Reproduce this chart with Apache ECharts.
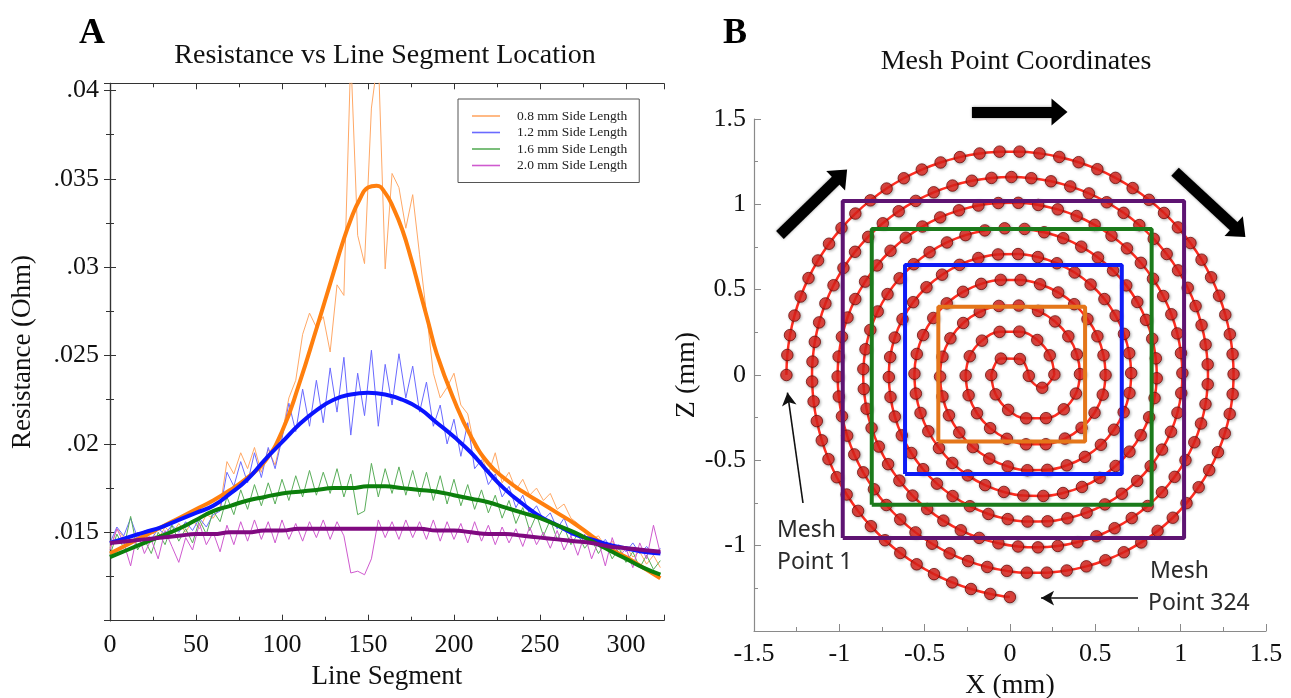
<!DOCTYPE html>
<html><head><meta charset="utf-8">
<script src="https://cdn.jsdelivr.net/npm/echarts@6/dist/echarts.min.js"></script>
<style>html,body{margin:0;padding:0;background:#fff}#c{width:1291px;height:698px}</style>
</head><body><div id="c"></div>
<script>
// ================= Panel A : resistance vs line segment =================
const seriesNames = ['0.8 mm Side Length', '1.2 mm Side Length', '1.6 mm Side Length', '2.0 mm Side Length'];
const rawSegments = [0,4,8,12,16,20,24,28,32,36,40,44,48,52,56,60,64,68,72,76,80,84,88,92,96,100,104,108,112,116,120,124,128,132,136,140,144,148,152,156,160,164,168,172,176,180,184,188,192,196,200,204,208,212,216,220,224,228,232,236,240,244,248,252,256,260,264,268,272,276,280,284,288,292,296,300,304,308,312,316,320];
const raw08 = [.0141,.0152,.0147,.0143,.0150,.0145,.0151,.0146,.0153,.0149,
  .0155,.0150,.0157,.0152,.0160,.0158,.0164,.0190,.0183,.0195,
  .0186,.0198,.0184,.0197,.0188,.0205,.0226,.0236,.0262,.0274,
  .0266,.0272,.0252,.0290,.0284,.0420,.0318,.0302,.0390,.0420,
  .0299,.0353,.0345,.0322,.0341,.0307,.0274,.0240,.0226,.0232,
  .0240,.0222,.0217,.0198,.0193,.0183,.0195,.0178,.0184,.0174,
  .0180,.0171,.0175,.0168,.0172,.0163,.0166,.0158,.0155,.0150,
  .0146,.0148,.0142,.0145,.0138,.0142,.0136,.0139,.0132,.0137,.0130];
const raw12 = [.0144,.0153,.0148,.0158,.0147,.0151,.0146,.0152,.0149,.0154,
  .0150,.0156,.0151,.0158,.0153,.0160,.0162,.0184,.0176,.0190,
  .0178,.0195,.0181,.0198,.0186,.0203,.0223,.0207,.0231,.0210,
  .0236,.0212,.0243,.0218,.0249,.0205,.0240,.0216,.0253,.0210,
  .0245,.0222,.0251,.0226,.0244,.0218,.0235,.0210,.0222,.0200,
  .0214,.0193,.0212,.0186,.0191,.0177,.0183,.0170,.0176,.0164,
  .0171,.0160,.0165,.0157,.0161,.0152,.0158,.0148,.0150,.0144,
  .0147,.0142,.0146,.0140,.0143,.0139,.0144,.0138,.0142,.0137,.0141];
const raw16 = [.0137,.0149,.0141,.0159,.0140,.0146,.0138,.0150,.0143,.0154,
  .0145,.0152,.0144,.0157,.0149,.0162,.0156,.0170,.0160,.0174,
  .0163,.0177,.0165,.0178,.0166,.0180,.0168,.0182,.0170,.0185,
  .0171,.0184,.0172,.0186,.0170,.0183,.0160,.0162,.0189,.0170,
  .0186,.0172,.0187,.0171,.0185,.0170,.0184,.0168,.0182,.0166,
  .0180,.0165,.0177,.0163,.0174,.0161,.0171,.0158,.0168,.0155,
  .0164,.0151,.0160,.0148,.0157,.0146,.0153,.0143,.0149,.0141,
  .0146,.0138,.0144,.0135,.0141,.0133,.0139,.0130,.0137,.0129,.0134];
const raw20 = [.0140,.0152,.0144,.0131,.0150,.0138,.0146,.0135,.0151,.0142,
  .0133,.0147,.0140,.0155,.0143,.0150,.0139,.0154,.0143,.0156,
  .0145,.0157,.0146,.0156,.0144,.0157,.0146,.0155,.0145,.0156,
  .0147,.0157,.0146,.0156,.0148,.0127,.0128,.0126,.0135,.0157,
  .0147,.0156,.0146,.0157,.0147,.0156,.0146,.0157,.0145,.0156,
  .0146,.0155,.0144,.0156,.0145,.0154,.0143,.0153,.0144,.0152,
  .0142,.0153,.0143,.0150,.0141,.0151,.0140,.0148,.0137,.0149,
  .0135,.0145,.0131,.0147,.0136,.0141,.0130,.0144,.0135,.0154,.0138];
// smooth fitted curves
const fit08Segments = [0,10,20,30,40,50,60,70,80,90,100,110,120,125,130,135,140,145,150,155,160,165,170,175,180,185,190,200,210,220,230,240,250,260,270,280,290,300,310,320];
const fit08 = [.0138,.0143,.0148,.0153,.0158,.0163,.0168,.0174,.0181,.0190,.0207,.0234,.0265,.0281,.0297,.0313,.0327,.0338,.0345,.0346,.0342,.0333,.0321,.0305,.0287,.0269,.0251,.0225,.0204,.0189,.0180,.0173,.0167,.0161,.0155,.0148,.0141,.0136,.0130,.0124];
const fitSegments = [0,10,20,30,40,50,60,70,80,90,100,110,120,130,140,150,160,170,180,190,200,210,220,230,240,250,260,270,280,290,300,310,320];
const fit12 = [.0144,.0147,.0150,.0153,.0157,.0161,.0165,.0172,.0180,.0191,.0201,.0211,.0219,.0225,.0228,.0229,.0228,.0225,.0220,.0212,.0204,.0195,.0184,.0174,.0166,.0159,.0154,.0149,.0146,.0143,.0141,.0139,.0138];
const fit16 = [.0136,.0140,.0144,.0148,.0152,.0157,.0162,.0165,.0168,.0170,.0172,.0173,.0174,.0175,.0175,.0176,.0176,.0175,.0174,.0173,.0171,.0169,.0167,.0164,.0161,.0158,.0154,.0150,.0145,.0140,.0135,.0130,.0126];
const fit20 = [.0144,.0145,.0146,.0147,.0148,.0149,.0149,.0150,.0150,.0151,.0151,.0152,.0152,.0152,.0152,.0152,.0152,.0152,.0152,.0151,.0151,.0150,.0149,.0149,.0148,.0147,.0146,.0145,.0144,.0142,.0141,.0140,.0139];
const rawColors = ['#ffa866', '#6a6aff', '#5aae5a', '#cf5acf'];
const fitColors = ['#ff7f0e', '#0a14ff', '#0c7f0c', '#800a80'];

// ================= Panel B : spiral mesh points =================
// Arc centres (x in mm, on the x axis): O = origin, C = lower half-turns, J = central join
const arcCentreX = {O: 0, C: 0.15, J: 0.185};
const arcCentre = ['O','C','O','C','O','C','O','C','O','J','O','C','O','C','O','C','O','C'];
const arcRadius = [1.31,1.16,1.01,0.86,0.71,0.56,0.41,0.26,0.11,0.075,0.26,0.41,0.56,0.71,0.86,1.01,1.16,1.31];
const arcFrom = [180,360,180,360,180,360,180,360,180,180,0,180,0,180,0,180,0,180];
const arcTo   = [0,180,0,180,0,180,0,180,0,360,180,360,180,360,180,360,180,263.4];
// angle (deg) of each mesh point on each arc, point 1 ... point 324 in order
const arcPointAngles = [
  [180,174.86,169.73,164.59,159.45,154.32,149.18,144.05,138.91,133.77,128.64,123.5,118.36,113.23,108.09,102.96,97.82,92.68,87.55,82.41,77.27,72.14,67,61.86,56.73,51.59,46.46,41.32,36.18,31.05,25.91,20.77,15.64,10.5,5.37,0.23],
  [354.46,348.66,342.86,337.06,331.26,325.46,319.66,313.86,308.05,302.25,296.45,290.65,284.85,279.05,273.25,267.45,261.65,255.85,250.05,244.25,238.45,232.65,226.85,221.05,215.25,209.45,203.65,197.84,192.04,186.24,180.44],
  [173.85,167.18,160.52,153.86,147.2,140.54,133.88,127.21,120.55,113.89,107.23,100.56,93.9,87.24,80.58,73.92,67.26,60.59,53.93,47.27,40.61,33.95,27.28,20.62,13.96,7.3,0.64],
  [352.92,345.1,337.27,329.45,321.63,313.8,305.98,298.16,290.33,282.51,274.68,266.86,259.04,251.21,243.39,235.56,227.74,219.92,212.09,204.27,196.44,188.62,180.8],
  [171.49,162.01,152.53,143.06,133.58,124.1,114.63,105.15,95.67,86.2,76.72,67.24,57.77,48.29,38.81,29.34,19.86,10.38,0.9],
  [349.13,337.11,325.1,313.08,301.07,289.05,277.04,265.02,253.01,240.99,228.98,216.96,204.95,192.93,180.92],
  [164.84,148.43,132.02,115.61,99.2,82.78,66.37,49.96,33.55,17.14,0.73],
  [335.27,309.39,283.51,257.63,231.75,205.87,180],
  [119.17,58.34],
  [183.65,272.87],
  [0.6,26.34,52.07,77.81,103.55,129.28,155.02],
  [180.48,196.8,213.12,229.44,245.76,262.08,278.4,294.72,311.04,327.36,343.68],
  [0,11.95,23.9,35.85,47.8,59.74,71.69,83.64,95.59,107.54,119.49,131.44,143.39,155.33,167.28,179.23],
  [188.82,198.24,207.67,217.09,226.52,235.94,245.36,254.79,264.21,273.64,283.06,292.49,301.91,311.33,320.76,330.18,339.61,349.03,358.46],
  [6.51,14.29,22.07,29.85,37.63,45.41,53.19,60.97,68.75,76.53,84.31,92.09,99.87,107.66,115.44,123.22,131,138.78,146.56,154.34,162.12,169.9,177.68],
  [184.65,191.28,197.9,204.53,211.15,217.78,224.4,231.03,237.65,244.28,250.9,257.53,264.15,270.78,277.4,284.03,290.65,297.28,303.9,310.53,317.15,323.78,330.4,337.03,343.65,350.28,356.9],
  [3.07,8.84,14.61,20.38,26.14,31.91,37.68,43.45,49.22,54.99,60.76,66.52,72.29,78.06,83.83,89.6,95.37,101.13,106.9,112.67,118.44,124.21,129.98,135.75,141.51,147.28,153.05,158.82,164.59,170.36,176.12],
  [181.68,186.78,191.89,197,202.11,207.21,212.32,217.43,222.54,227.65,232.75,237.86,242.97,248.08,253.19,258.29,263.4]
];
// squares (side lengths 0.8, 1.2, 1.6, 2.0 mm)
const squareLeft   = [-0.42, -0.615, -0.81, -0.98];
const squareRight  = [0.44, 0.655, 0.83, 1.02];
const squareBottom = [-0.39, -0.58, -0.76, -0.955];
const squareTop    = [0.40, 0.645, 0.855, 1.02];
const squareColors = ['#e4761a', '#0d1bf5', '#1b7a1b', '#5e1472'];
// direction arrows and annotation arrows [x1, y1, x2, y2] in mm
const bigArrows = [[-1.348, 0.820, -0.988, 1.171], [-0.223, 1.541, 0.29, 1.541], [0.967, 1.191, 1.345, 0.840]];
const noteArrows = [[-1.213, -0.750, -1.304, -0.103], [0.75, -1.307, 0.182, -1.307]];

// ================= layout =================
const GRID_A = {left: 110, top: 83.3, width: 553.8, height: 537.4};
const GRID_B = {left: 754, top: 119, width: 512, height: 512};
const XB = [-1.5, 1.5], YB = [-1.5, 1.5], YB_ANNOT = [-1.5, 1.75];
const bx = v => GRID_B.left + (v - XB[0]) / (XB[1] - XB[0]) * GRID_B.width;
const by = v => GRID_B.top + (YB[1] - v) / (YB[1] - YB[0]) * GRID_B.height;
const GRID_ANNOT = {left: GRID_B.left, top: by(YB_ANNOT[1]), width: GRID_B.width, height: by(YB_ANNOT[0]) - by(YB_ANNOT[1])};
const SERIF = '"Liberation Serif", "Times New Roman", serif';

const chart = echarts.init(document.getElementById('c'), null, {renderer: 'canvas'});

const series = [];
seriesNames.forEach((n, i) => {
  const vals = [raw08, raw12, raw16, raw20][i];
  series.push({name: n, type: 'line', xAxisIndex: 0, yAxisIndex: 0, symbol: 'none', z: 2,
    data: rawSegments.map((x, k) => [x, vals[k]]),
    lineStyle: {width: 1, color: rawColors[i]}, itemStyle: {color: rawColors[i]}});
});
[[fit08Segments, fit08], [fitSegments, fit12], [fitSegments, fit16], [fitSegments, fit20]].forEach((p, i) => {
  series.push({name: 'fit ' + i, type: 'line', xAxisIndex: 0, yAxisIndex: 0, symbol: 'none', smooth: true, z: 3,
    data: p[0].map((x, k) => [x, p[1][k]]),
    lineStyle: {width: 4, color: fitColors[i]}, itemStyle: {color: fitColors[i]}});
});

const polarKeys = ['O', 'C', 'J'];
const dotsByPolar = {O: [], C: [], J: []};
arcRadius.forEach((r, i) => {
  const key = arcCentre[i];
  const pts = arcPointAngles[i];
  const path = [];
  if (pts[0] !== arcFrom[i]) path.push([r, arcFrom[i]]);
  pts.forEach(a => { path.push([r, a]); dotsByPolar[key].push([r, a]); });
  if (pts[pts.length - 1] !== arcTo[i]) path.push([r, arcTo[i]]);
  series.push({type: 'line', coordinateSystem: 'polar', polarIndex: polarKeys.indexOf(key), symbol: 'none',
    smooth: 0.4, silent: true, z: 2, data: path, lineStyle: {width: 2.5, color: '#ff2e22'}});
});
polarKeys.forEach((key, pi) => {
  series.push({type: 'scatter', coordinateSystem: 'polar', polarIndex: pi, symbolSize: 11.5, z: 3, silent: true,
    data: dotsByPolar[key],
    itemStyle: {color: '#e3231c', borderColor: '#6e0f0c', borderWidth: 1,
      shadowBlur: 3, shadowColor: 'rgba(0,0,0,0.35)', shadowOffsetX: 1, shadowOffsetY: 1}});
});
squareLeft.forEach((l, i) => {
  const r = squareRight[i], b = squareBottom[i], t = squareTop[i];
  series.push({type: 'line', xAxisIndex: 2, yAxisIndex: 2, symbol: 'none', z: 5, silent: true,
    data: [[l, b], [r, b], [r, t], [l, t], [l, b]], lineStyle: {width: 4, color: squareColors[i]}});
});
series.push({type: 'line', xAxisIndex: 3, yAxisIndex: 3, data: [], clip: false, z: 6, silent: true,
  markLine: {silent: true, animation: false, label: {show: false}, symbol: ['none', 'triangle'], symbolSize: [27, 16],
    lineStyle: {type: 'solid', width: 11, color: '#000', shadowBlur: 3, shadowColor: 'rgba(0,0,0,0.4)'},
    emphasis: {disabled: true},
    data: bigArrows.map(a => [{coord: [a[0], a[1]]}, {coord: [a[2], a[3]]}])}});
series.push({type: 'line', xAxisIndex: 3, yAxisIndex: 3, data: [], clip: false, z: 6, silent: true,
  markLine: {silent: true, animation: false, label: {show: false}, symbol: ['none', 'arrow'], symbolSize: [11, 13],
    lineStyle: {type: 'solid', width: 1.6, color: '#111'}, emphasis: {disabled: true},
    data: noteArrows.map(a => [{coord: [a[0], a[1]]}, {coord: [a[2], a[3]]}])}});

const tickLabelA = {fontFamily: SERIF, fontSize: 26, color: '#111'};
const frameA = {axisLine: {lineStyle: {color: '#333', width: 1.2}},
  axisTick: {inside: true, length: 6, lineStyle: {color: '#333'}},
  minorTick: {show: true, splitNumber: 2, length: 4, lineStyle: {color: '#333'}},
  splitLine: {show: false}};
const frameB = {axisLine: {onZero: false, lineStyle: {color: '#8a8a8a', width: 1.2}},
  axisTick: {inside: true, length: 7, lineStyle: {color: '#8a8a8a'}},
  minorTick: {show: true, splitNumber: 2, length: 4, lineStyle: {color: '#8a8a8a'}},
  splitLine: {show: false}};
const option = {
  animation: false,
  backgroundColor: '#fff',
  grid: [
    Object.assign({outerBoundsMode: 'none', containLabel: false}, GRID_A),
    Object.assign({outerBoundsMode: 'none', containLabel: false}, GRID_B),
    Object.assign({outerBoundsMode: 'none', containLabel: false}, GRID_ANNOT)
  ],
  polar: polarKeys.map(k => ({center: [bx(arcCentreX[k]), by(0)], radius: GRID_B.width / 2})),
  angleAxis: polarKeys.map((k, i) => ({polarIndex: i, type: 'value', min: 0, max: 360, startAngle: 0, clockwise: false, show: false})),
  radiusAxis: polarKeys.map((k, i) => ({polarIndex: i, type: 'value', min: 0, max: XB[1], show: false})),
  xAxis: [
    Object.assign({gridIndex: 0, type: 'value', min: 0, max: 322, interval: 50, position: 'bottom',
      name: 'Line Segment', nameLocation: 'middle', nameGap: 43,
      nameTextStyle: {fontFamily: SERIF, fontSize: 27, color: '#111'},
      axisLabel: Object.assign({margin: 11, formatter: v => (Math.abs(v % 50) < 1e-6 ? String(v) : '')}, tickLabelA)}, frameA),
    Object.assign({gridIndex: 0, type: 'value', min: 0, max: 322, interval: 50, position: 'top', axisLabel: {show: false}}, frameA),
    Object.assign({gridIndex: 1, type: 'value', min: XB[0], max: XB[1], interval: 0.5,
      name: 'X (mm)', nameLocation: 'middle', nameGap: 39,
      nameTextStyle: {fontFamily: SERIF, fontSize: 28, color: '#111'},
      axisLabel: Object.assign({margin: 10, formatter: v => String(+v.toFixed(2))}, tickLabelA)}, frameB),
    {gridIndex: 2, type: 'value', min: XB[0], max: XB[1], show: false}
  ],
  yAxis: [
    Object.assign({gridIndex: 0, type: 'value', min: 0.01, max: 0.0404, interval: 0.005,
      name: 'Resistance (Ohm)', nameLocation: 'middle', nameGap: 74,
      nameTextStyle: {fontFamily: SERIF, fontSize: 27, color: '#111'},
      axisLabel: Object.assign({margin: 11, formatter: v => (v < 0.0149 || v > 0.0401) ? '' : String(+v.toFixed(3)).replace(/^0\./, '.')}, tickLabelA)}, frameA),
    Object.assign({gridIndex: 0, type: 'value', min: 0.01, max: 0.0404, interval: 0.005, position: 'right', axisLabel: {show: false}}, frameA),
    Object.assign({gridIndex: 1, type: 'value', min: YB[0], max: YB[1], interval: 0.5,
      name: 'Z (mm)', nameLocation: 'middle', nameGap: 36,
      nameTextStyle: {fontFamily: SERIF, fontSize: 28, color: '#111'},
      axisLabel: Object.assign({margin: 8, formatter: v => v < -1.49 ? '' : String(+v.toFixed(2))}, tickLabelA)}, frameB),
    {gridIndex: 2, type: 'value', min: YB_ANNOT[0], max: YB_ANNOT[1], show: false}
  ],
  legend: {data: seriesNames, orient: 'vertical', left: 458, top: 99, padding: [10, 12, 10, 14], itemGap: 2.5,
    icon: 'rect', itemWidth: 28, itemHeight: 1.6, backgroundColor: '#fff', borderColor: '#555', borderWidth: 1, borderRadius: 0,
    textStyle: {fontFamily: SERIF, fontSize: 13.5, color: '#222', padding: [0, 0, 0, 12]}},
  graphic: [
    {type: 'text', style: {text: 'A', x: 92, y: 34, font: 'bold 36px ' + SERIF, fill: '#000', align: 'center', verticalAlign: 'middle', textAlign: 'center', textVerticalAlign: 'middle'}},
    {type: 'text', style: {text: 'B', x: 735, y: 34, font: 'bold 36px ' + SERIF, fill: '#000', align: 'center', verticalAlign: 'middle', textAlign: 'center', textVerticalAlign: 'middle'}},
    {type: 'text', style: {text: 'Resistance vs Line Segment Location', x: 385, y: 56, font: '28px ' + SERIF, fill: '#111', align: 'center', verticalAlign: 'middle', textAlign: 'center', textVerticalAlign: 'middle'}},
    {type: 'text', style: {text: 'Mesh Point Coordinates', x: 1016, y: 62, font: '28px ' + SERIF, fill: '#111', align: 'center', verticalAlign: 'middle', textAlign: 'center', textVerticalAlign: 'middle'}},
    {type: 'text', z: 10, style: {text: 'Mesh', x: 777, y: 530, font: '23px "Noto Sans", sans-serif', fill: '#2a2a2a', align: 'left', verticalAlign: 'middle', textAlign: 'left', textVerticalAlign: 'middle'}},
    {type: 'text', z: 10, style: {text: 'Point 1', x: 777, y: 562, font: '23px "Noto Sans", sans-serif', fill: '#2a2a2a', align: 'left', verticalAlign: 'middle', textAlign: 'left', textVerticalAlign: 'middle'}},
    {type: 'text', z: 10, style: {text: 'Mesh', x: 1150, y: 571, font: '23px "Noto Sans", sans-serif', fill: '#2a2a2a', align: 'left', verticalAlign: 'middle', textAlign: 'left', textVerticalAlign: 'middle'}},
    {type: 'text', z: 10, style: {text: 'Point 324', x: 1148, y: 603, font: '23px "Noto Sans", sans-serif', fill: '#2a2a2a', align: 'left', verticalAlign: 'middle', textAlign: 'left', textVerticalAlign: 'middle'}}
  ],
  series: series
};
chart.setOption(option);
</script>
</body></html>
